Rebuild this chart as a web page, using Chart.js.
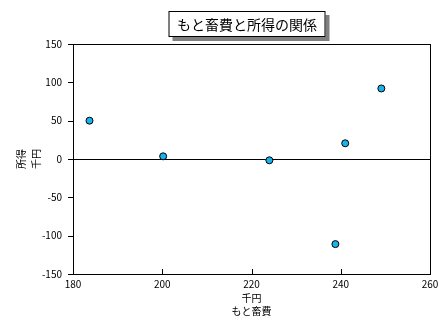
<!DOCTYPE html>
<html>
<head>
<meta charset="utf-8">
<script src="https://cdn.jsdelivr.net/npm/chart.js@4"></script>
<style>
  html, body { margin: 0; padding: 0; background: #fff; }
  #wrap { width: 447px; height: 324px; }
</style>
</head>
<body>
<div id="wrap"><canvas id="chart" width="447" height="324"></canvas></div>
<script>
// Values
const TITLE = "もと畜費と所得の関係";
const X_TITLE = ["千円", "もと畜費"];
const Y_TITLE = ["所得", "千円"];
const costs   = [183.7, 200.2, 224.0, 238.8, 241.0, 249.1];   // もと畜費 (千円)
const incomes = [50, 3.5, -1.7, -111, 20.5, 92];               // 所得 (千円)
const X_TICKS = [180, 200, 220, 240, 260];
const Y_TICKS = [-150, -100, -50, 0, 50, 100, 150];

const FONT = "'Noto Sans CJK JP', 'DejaVu Sans', sans-serif";

// Boxed title with a grey drop shadow
const titleBox = {
  id: 'titleBox',
  afterDraw(chart) {
    const ctx = chart.ctx;
    const cx = 247, top = 11, w = 157, h = 26;
    const left = cx - w / 2;
    ctx.save();
    ctx.fillStyle = '#808080';
    ctx.fillRect(left + 4, top + 4, w, h);
    ctx.fillStyle = '#fff';
    ctx.fillRect(left, top, w, h);
    ctx.strokeStyle = '#000';
    ctx.lineWidth = 1;
    ctx.strokeRect(left + 0.5, top + 0.5, w - 1, h - 1);
    ctx.fillStyle = '#000';
    ctx.font = "14px " + FONT;
    ctx.textAlign = 'center';
    ctx.textBaseline = 'middle';
    ctx.fillText(TITLE, cx, top + h / 2 + 1);
    ctx.restore();
  }
};

// Frame, zero line and tick marks (x ticks inside, y ticks outside)
const frame = {
  id: 'frame',
  beforeDatasetsDraw(chart) {
    const { ctx, chartArea: a, scales } = chart;
    ctx.save();
    ctx.strokeStyle = '#000';
    ctx.lineWidth = 1;
    ctx.strokeRect(Math.round(a.left) + 0.5, Math.round(a.top) + 0.5,
                   Math.round(a.right - a.left), Math.round(a.bottom - a.top));
    const y0 = Math.round(scales.y.getPixelForValue(0)) + 0.5;
    ctx.beginPath();
    ctx.moveTo(a.left, y0);
    ctx.lineTo(a.right, y0);
    Y_TICKS.forEach(v => {
      const py = Math.round(scales.y.getPixelForValue(v)) + 0.5;
      ctx.moveTo(a.left - 5, py);
      ctx.lineTo(a.left, py);
    });
    X_TICKS.forEach(v => {
      const px = Math.round(scales.x.getPixelForValue(v)) + 0.5;
      ctx.moveTo(px, a.bottom);
      ctx.lineTo(px, a.bottom - 5);
    });
    ctx.stroke();
    ctx.restore();
  }
};

new Chart(document.getElementById('chart'), {
  type: 'scatter',
  data: {
    datasets: [{
      data: costs.map((c, i) => ({ x: c, y: incomes[i] })),
      backgroundColor: '#19b2ea',
      borderColor: '#000',
      borderWidth: 1,
      pointRadius: 3.5
    }]
  },
  options: {
    responsive: false,
    animation: false,
    layout: { padding: { top: 44, right: 17, left: 14, bottom: 0 } },
    plugins: { legend: { display: false }, tooltip: { enabled: false } },
    scales: {
      x: {
        type: 'linear', min: 180, max: 260,
        afterBuildTicks: s => { s.ticks = X_TICKS.map(v => ({ value: v })); },
        afterFit: s => { s.height = 50; },
        grid: { display: false }, border: { display: false },
        ticks: { color: '#000', font: { size: 10, family: FONT }, padding: -4, maxRotation: 0 },
        title: { display: true, text: X_TITLE, color: '#000', font: { size: 10, family: FONT, lineHeight: 1.25 }, padding: { top: 0, bottom: 7 } }
      },
      y: {
        type: 'linear', min: -150, max: 150,
        afterBuildTicks: s => { s.ticks = Y_TICKS.map(v => ({ value: v })); },
        afterFit: s => { s.width = 59; },
        grid: { display: false }, border: { display: false },
        ticks: { color: '#000', font: { size: 10, family: FONT }, padding: 3 },
        title: { display: true, text: Y_TITLE, color: '#000', font: { size: 10, family: FONT, lineHeight: 1.5 }, padding: 0 }
      }
    }
  },
  plugins: [frame, titleBox]
});
</script>
</body>
</html>
